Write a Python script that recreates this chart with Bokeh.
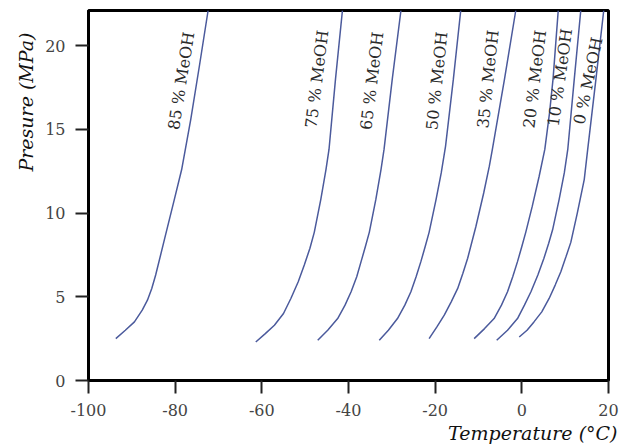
import math
from bokeh.plotting import figure
from bokeh.models import FixedTicker, Title
from bokeh.core.properties import value
from bokeh.embed import file_html
from bokeh.resources import INLINE

# ---- data ----
t85 = [-93.7, -91.5, -89.4, -87.6, -86.4, -85.4, -84.5, -82.4, -80.2, -78.5, -76.4, -74.4, -72.4]
p85 = [2.5, 3.0, 3.5, 4.2, 4.8, 5.5, 6.3, 8.5, 10.8, 12.6, 15.6, 18.8, 22.1]

t75 = [-61.4, -59.2, -57.1, -55.0, -53.3, -51.6, -50.2, -48.9, -47.9, -46.4, -45.2, -44.5, -43.0, -41.4]
p75 = [2.3, 2.8, 3.3, 4.0, 4.9, 5.9, 6.9, 7.9, 8.85, 10.8, 12.6, 13.8, 18.0, 22.1]

t65 = [-47.1, -44.8, -42.5, -40.8, -39.4, -38.1, -37.1, -36.1, -35.2, -33.7, -32.5, -31.8, -29.9, -27.9]
p65 = [2.4, 3.0, 3.7, 4.5, 5.3, 6.2, 7.1, 8.0, 8.85, 10.8, 12.6, 13.8, 18.0, 22.1]

t50 = [-32.9, -30.8, -28.7, -27.0, -25.6, -24.4, -23.3, -22.3, -21.4, -19.8, -18.6, -17.6, -15.8, -14.1]
p50 = [2.4, 3.0, 3.7, 4.5, 5.3, 6.2, 7.1, 8.0, 8.85, 10.8, 12.4, 14.0, 18.0, 22.1]

t35 = [-21.4, -19.6, -17.9, -16.3, -14.8, -13.6, -12.5, -10.6, -8.8, -7.5, -6.8, -4.0, -1.4]
p35 = [2.5, 3.2, 3.9, 4.7, 5.5, 6.4, 7.3, 9.2, 11.2, 12.8, 13.8, 18.0, 22.1]

t20 = [-11.0, -8.6, -6.4, -4.7, -3.3, -2.1, -1.0, 0.0, 0.9, 2.4, 4.0, 5.3, 6.4, 7.2, 8.4]
p20 = [2.5, 3.1, 3.7, 4.5, 5.3, 6.2, 7.1, 8.0, 8.85, 10.4, 12.2, 13.8, 16.0, 18.0, 22.1]

t10 = [-5.8, -3.3, -1.0, 0.6, 2.1, 3.7, 5.1, 6.2, 7.1, 8.6, 9.8, 10.6, 12.1, 13.6]
p10 = [2.4, 3.0, 3.7, 4.5, 5.3, 6.3, 7.3, 8.2, 9.0, 10.8, 12.4, 13.8, 18.0, 22.1]

t00 = [-0.6, 1.2, 2.8, 4.6, 6.3, 7.7, 9.0, 10.2, 11.3, 12.8, 14.4, 15.2, 17.1, 18.9]
p00 = [2.6, 3.0, 3.5, 4.1, 4.9, 5.7, 6.5, 7.4, 8.25, 10.0, 12.0, 13.8, 18.0, 22.1]

curve_names = ["85 % MeOH", "75 % MeOH", "65 % MeOH", "50 % MeOH",
               "35 % MeOH", "20 % MeOH", "10 % MeOH", "0 % MeOH"]
curve_t = [t85, t75, t65, t50, t35, t20, t10, t00]
curve_p = [p85, p75, p65, p50, p35, p20, p10, p00]

label_t = [-78.6, -47.3, -34.6, -19.6, -7.8, 3.0, 8.8, 15.3]
label_p = [17.9, 18.0, 17.9, 17.9, 18.0, 18.0, 18.1, 17.9]
label_deg = [81, 83, 83, 84, 84, 83, 82, 78]

x_ticks = [-100, -80, -60, -40, -20, 0, 20]
x_tick_text = ["-100", "-80", "-60", "-40", "-20", "0", "20"]
y_ticks = [0, 5, 10, 15, 20]

x_title = "Temperature (°C)"
y_title = "Presure (MPa)"

# ---- figure ----
p = figure(width=619, height=445, x_range=(-100, 20), y_range=(0, 22.1),
           output_backend="svg", toolbar_location=None)
p.min_border_left = 88
p.min_border_right = 11
p.min_border_top = 10
p.min_border_bottom = 63
p.background_fill_color = "white"
p.border_fill_color = "white"
p.grid.visible = False
p.outline_line_color = "black"
p.outline_line_width = 3

for ax in (p.xaxis[0], p.yaxis[0]):
    ax.axis_line_color = "black"
    ax.axis_line_width = 3
    ax.major_tick_line_color = "#222222"
    ax.major_tick_line_width = 2
    ax.major_tick_in = 0
    ax.major_tick_out = 13
    ax.minor_tick_line_color = None
    ax.major_label_text_font = "DejaVu Serif"
    ax.major_label_text_font_size = "16px"
    ax.major_label_text_color = "#444444"

p.xaxis.ticker = FixedTicker(ticks=x_ticks)
p.xaxis.major_label_overrides = {float(t): s for t, s in zip(x_ticks, x_tick_text)}
p.yaxis.ticker = FixedTicker(ticks=y_ticks)
p.xaxis.major_label_standoff = 10
p.yaxis.major_label_standoff = 10

line_color = "#4b5a9c"
for t, pr in zip(curve_t, curve_p):
    p.line(t, pr, line_color=line_color, line_width=1.5)

p.text(x=label_t, y=label_p, text=curve_names,
       angle=[math.radians(a) for a in label_deg],
       text_font=value("DejaVu Serif"), text_font_size="16px",
       text_color="#2a2a2a", text_align="center", text_baseline="middle")

xt = Title(text=x_title, align="right", offset=-9, standoff=3,
           text_font="DejaVu Serif", text_font_style="italic",
           text_font_size="19px", text_color="#111111")
yt = Title(text=y_title, align="right", offset=22, standoff=12,
           text_font="DejaVu Serif", text_font_style="italic",
           text_font_size="19px", text_color="#111111")
p.add_layout(xt, "below")
p.add_layout(yt, "left")

open("out.html", "w").write(file_html(p, INLINE))
